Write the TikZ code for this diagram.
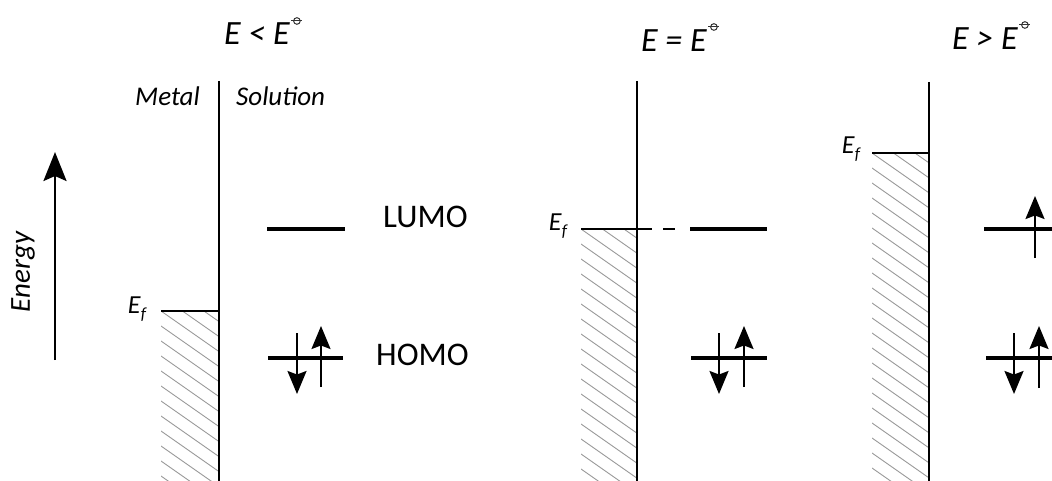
\documentclass[tikz,border=0pt]{standalone}
\usepackage{fontspec}
\setmainfont{Carlito}
\usetikzlibrary{arrows.meta}
\newcommand{\efl}{\textit{E}\raisebox{-6pt}{\fontsize{17}{17}\selectfont\textit{f}}}
\tikzset{
  wall/.style={line width=2.8pt},
  level/.style={line width=3.6pt},
  fermi/.style={line width=1.8pt},
  hatchline/.style={black!40, line width=0.9pt},
  spin/.style={line width=2pt, -{Stealth[length=23pt,width=19pt,inset=3.5pt]}},
  bigarrow/.style={line width=2.4pt, -{Stealth[length=29pt,width=23pt,inset=5pt]}},
  title/.style={font=\fontsize{34}{36}\selectfont\itshape, inner sep=0pt, anchor=base west},
  side/.style={font=\fontsize{27}{30}\selectfont\itshape, inner sep=0pt, anchor=base west},
  orb/.style={font=\fontsize{33}{36}\selectfont, inner sep=0pt, anchor=base west},
  eflab/.style={font=\fontsize{26}{28}\selectfont, inner sep=0pt, anchor=base east},
  plim/.style={line width=1pt, black!80}
}
\newcommand{\plimsoll}[1]{%
  \draw[plim] (#1) circle (3.3pt);
  \draw[plim] ([xshift=-5.5pt]#1) -- ([xshift=5.5pt]#1);}
\begin{document}
\begin{tikzpicture}[x=1pt,y=-1pt]
\useasboundingbox (0,0) rectangle (1052,481);

% ---------- titles ----------
\node[title] (t1) at (224,45) {E < E};
\coordinate (p1) at ([xshift=7pt,yshift=2pt]t1.north east);
\plimsoll{p1}
\node[title] (t2) at (641,52) {E = E};
\coordinate (p2) at ([xshift=7pt,yshift=3pt]t2.north east);
\plimsoll{p2}
\node[title] (t3) at (952,50) {E > E};
\coordinate (p3) at ([xshift=7pt,yshift=3pt]t3.north east);
\plimsoll{p3}

% ---------- energy axis ----------
\coordinate (ea0) at (55,360);
\coordinate (ea1) at (55,152);
\draw[bigarrow] (ea0) -- (ea1);
\node[rotate=90, font=\fontsize{29}{32}\selectfont\itshape, inner sep=0pt] (en) at (23,272) {Energy};

% ---------- panel 1 ----------
\node[side, anchor=base east] (metal) at (200,106) {Metal};
\node[side] (sol) at (236,106) {Solution};
\coordinate (w1t) at (219,81);
\coordinate (w1b) at (219,481);
\begin{scope}
  \clip (161,311) rectangle (219,481);
  \foreach \k in {-4,...,12} \draw[hatchline] (161,311+\k*15) -- ++(80,56);
\end{scope}
\draw[wall] (w1t) -- (w1b);
\coordinate (f1a) at (161,311);
\coordinate (f1b) at (219,311);
\draw[fermi] (f1a) -- (f1b);
\node[eflab] (ef1) at (147,313) {\efl};
\coordinate (l1a) at (267,229);
\coordinate (l1b) at (345,229);
\draw[level] (l1a) -- (l1b);
\coordinate (h1a) at (268,358);
\coordinate (h1b) at (343,358);
\draw[level] (h1a) -- (h1b);
\coordinate (s1a) at (297,333); \coordinate (s1b) at (297,394);
\draw[spin] (s1a) -- (s1b);
\coordinate (s2a) at (321,387); \coordinate (s2b) at (321,326);
\draw[spin] (s2a) -- (s2b);
\node[orb] (lumo) at (383,228) {LUMO};
\node[orb] (homo) at (376,365) {HOMO};

% ---------- panel 2 ----------
\coordinate (w2t) at (637,81);
\coordinate (w2b) at (637,481);
\begin{scope}
  \clip (581,229) rectangle (637,481);
  \foreach \k in {-4,...,17} \draw[hatchline] (581,229+\k*15) -- ++(80,56);
\end{scope}
\draw[wall] (w2t) -- (w2b);
\coordinate (f2a) at (581,229);
\coordinate (f2b) at (652,229);
\draw[fermi] (f2a) -- (f2b);
\coordinate (d2a) at (663,229); \coordinate (d2b) at (675,229);
\draw[fermi] (d2a) -- (d2b);
\node[eflab] (ef2) at (568,230) {\efl};
\coordinate (l2a) at (690,229);
\coordinate (l2b) at (767,229);
\draw[level] (l2a) -- (l2b);
\coordinate (h2a) at (691,358);
\coordinate (h2b) at (767,358);
\draw[level] (h2a) -- (h2b);
\coordinate (s3a) at (719,333); \coordinate (s3b) at (719,394);
\draw[spin] (s3a) -- (s3b);
\coordinate (s4a) at (744,387); \coordinate (s4b) at (744,326);
\draw[spin] (s4a) -- (s4b);

% ---------- panel 3 ----------
\coordinate (w3t) at (929,82);
\coordinate (w3b) at (929,481);
\begin{scope}
  \clip (872,153) rectangle (929,481);
  \foreach \k in {-4,...,22} \draw[hatchline] (872,153+\k*15) -- ++(80,56);
\end{scope}
\draw[wall] (w3t) -- (w3b);
\coordinate (f3a) at (872,153);
\coordinate (f3b) at (929,153);
\draw[fermi] (f3a) -- (f3b);
\node[eflab] (ef3) at (861,154) {\efl};
\coordinate (l3a) at (984,229);
\coordinate (l3b) at (1052,229);
\draw[level] (l3a) -- (l3b);
\coordinate (h3a) at (986,358);
\coordinate (h3b) at (1052,358);
\draw[level] (h3a) -- (h3b);
\coordinate (s5a) at (1035,258); \coordinate (s5b) at (1035,196);
\draw[spin] (s5a) -- (s5b);
\coordinate (s6a) at (1014,333); \coordinate (s6b) at (1014,394);
\draw[spin] (s6a) -- (s6b);
\coordinate (s7a) at (1039,388); \coordinate (s7b) at (1039,326);
\draw[spin] (s7a) -- (s7b);
\end{tikzpicture}
\end{document}
